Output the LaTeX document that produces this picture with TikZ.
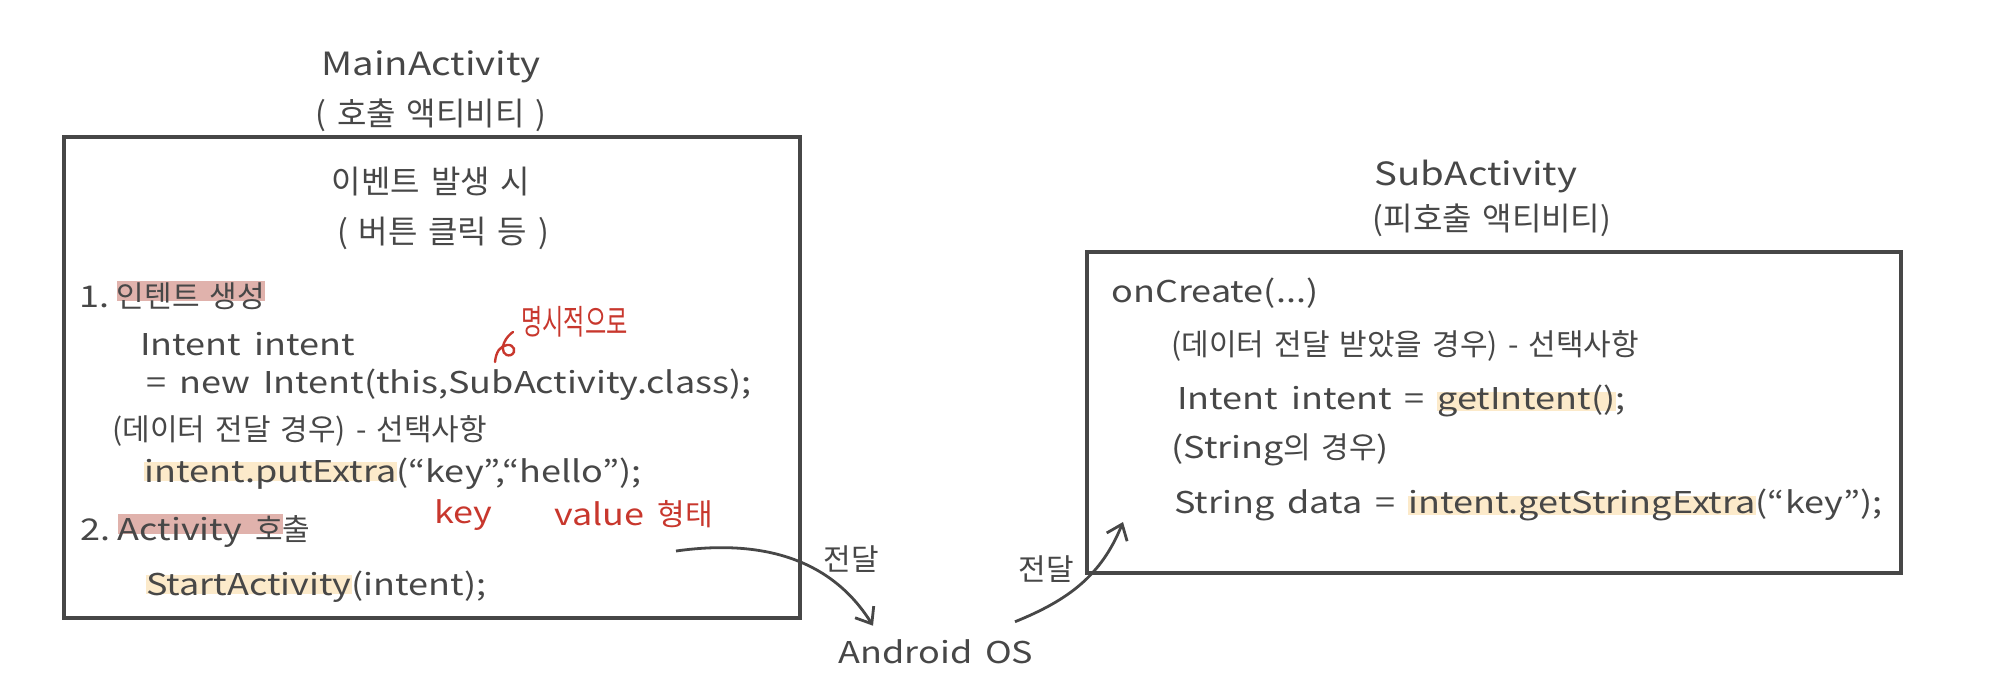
\documentclass[tikz,border=0pt]{standalone}
\usepackage{fontspec}
\setmainfont{Noto Sans CJK KR}[FakeStretch=1.2,WordSpace=1.6]
\newfontfamily\ko{Noto Sans CJK KR}[WordSpace=1.5]
\newfontfamily\kothin{Noto Sans CJK KR}[FakeStretch=0.68]
\usetikzlibrary{arrows.meta,positioning}

\definecolor{pen}{HTML}{474747}
\definecolor{redpen}{HTML}{C8372D}
\definecolor{pinkhl}{HTML}{E0B2AC}
\definecolor{yellowhl}{HTML}{FCEACA}

\newcommand{\hlmark}[3][0.02em]{\setbox0\hbox{#3}\rlap{\color{#2}\rule[#1]{\wd0}{0.66em}}\box0}

\begin{document}
\begin{tikzpicture}[x=0.5pt,y=0.5pt,>={Straight Barb[length=7pt,width=11pt]},
			code/.style={anchor=base west,inner sep=0pt,text=pen,font=\fontsize{15}{18}\selectfont},
			kcode/.style={code,font=\ko\fontsize{15}{18}\selectfont},
			title/.style={anchor=base,inner sep=0pt,text=pen,font=\fontsize{16}{19}\selectfont},
			ktitle/.style={title,font=\ko\fontsize{16}{19}\selectfont},
			note/.style={anchor=base west,inner sep=0pt,text=redpen,font=\fontsize{15}{18}\selectfont},
			box/.style={draw=pen,line width=1.6pt},
			flow/.style={->,draw=pen,line width=1.4pt}
			]

			\useasboundingbox (0,0) rectangle (2000,-680);

			\node[title] (main) at (431,-75) {MainActivity};
			\node[ktitle] (mainsub) at (431,-125) {( 호출 액티비티 )};
			\draw[box] (64,-137) rectangle (800,-618);
			\node[ktitle] (event) at (431,-193) {이벤트 발생 시};
			\node[ktitle] (eventsub) at (443,-243) {( 버튼 클릭 등 )};

			\node[code] (step1) at (79,-307) {1.\kern0.25em\hlmark[0.2em]{pinkhl}{\ko 인텐트 생성}};
			\node[code] (decl) at (140,-355) {Intent intent};
			\node[note,font=\kothin\fontsize{17}{20}\selectfont] (explicit) at (521,-334) {명시적으로};
			\draw[redpen,line width=1.2pt,line cap=round] (495,-362) .. controls (496,-352) and (500,-346) .. (507,-345) .. controls (514,-344) and (517,-352) .. (511,-355) .. controls (504,-357) and (501,-350) .. (504,-343) .. controls (506,-338) and (510,-334) .. (513,-332);
			\node[code] (newint) at (146,-393) {= new Intent(this,SubActivity.class);};
			\node[kcode] (opt1) at (112,-440) {(데이터 전달 경우) - 선택사항};
			\node[code] (put) at (144,-482) {\hlmark{yellowhl}{intent.putExtra}(``key'',``hello'');};
			\node[note] (keyword) at (434,-523) {key};
			\node[note] (valueword) at (554,-525) {value {\ko 형태}};
			\node[code] (step2) at (80,-540) {2.\kern0.25em\hlmark[0.2em]{pinkhl}{Activity {\ko 호}}{\ko 출}};
			\node[code] (start) at (146,-595) {\hlmark{yellowhl}{StartActivity}(intent);};

			\node[title] (sub) at (1476,-185) {SubActivity};
			\node[ktitle] (subsub) at (1492,-230) {(피호출 액티비티)};
			\draw[box] (1087,-252) rectangle (1901,-573);
			\node[code] (create) at (1111,-302) {onCreate(...)};
			\node[kcode] (opt2) at (1171,-355) {(데이터 전달 받았을 경우) - 선택사항};
			\node[code] (get) at (1177,-409) {Intent intent = \hlmark[-0.08em]{yellowhl}{getIntent()};};
			\node[code] (case) at (1171,-458) {(String{\ko 의 경우})};
			\node[code] (data) at (1174,-513) {String data = \hlmark[-0.08em]{yellowhl}{intent.getStringExtra}(``key'');};

			\node[title,font=\fontsize{15}{18}\selectfont] (android) at (936,-663) {Android OS};
			\coordinate (send) at (676,-551);
			\coordinate (recv) at (1123,-522);
			\node[kcode] (pass1) at (823,-570) {전달};
			\node[kcode] (pass2) at (1018,-580) {전달};

			\draw[flow] (send) to[out=8,in=122] ([shift={(-63,13)}]android.north);
			\draw[flow] ([shift={(79,17)}]android.north) to[out=22,in=-112] (recv);
		\end{tikzpicture}
\end{document}
